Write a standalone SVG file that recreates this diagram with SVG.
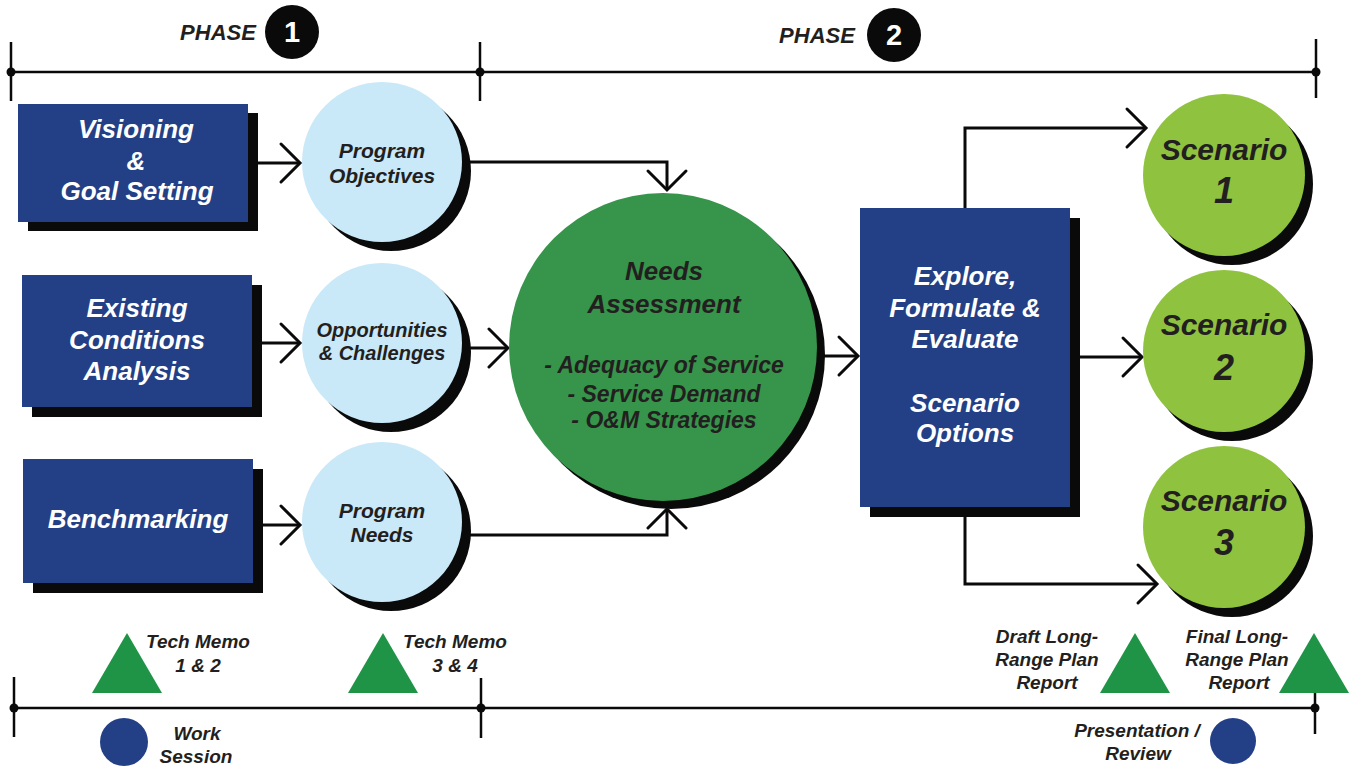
<svg xmlns="http://www.w3.org/2000/svg" width="1352" height="767" viewBox="0 0 1352 767">
  <defs>
    <style>
      .t { font-family: "Liberation Sans", Arial, sans-serif; font-weight: bold; font-style: italic; text-anchor: middle; }
      .upright { font-style: normal; }
      .dark { fill: #231f20; }
      .white { fill: #ffffff; }
      .box { fill: #233f86; }
      .shadow { fill: #0a0a0a; }
      .lblue { fill: #c9e8f8; }
      .dgreen { fill: #36954a; }
      .lime { fill: #8fc33f; }
      .tri { fill: #1f9447; }
      .navy { fill: #233f86; }
      .tl { stroke: #0a0a0a; stroke-width: 2.5; fill: none; }
      .conn { stroke: #0a0a0a; stroke-width: 3; fill: none; }
      .dot { fill: #0a0a0a; }
    </style>
    <marker id="chev" markerUnits="userSpaceOnUse" viewBox="-24 -23 28 46" refX="0" refY="0" markerWidth="28" markerHeight="46" orient="auto">
      <path d="M -19 -19 L 0 0 L -19 19" fill="none" stroke="#0a0a0a" stroke-width="3" stroke-linecap="round"/>
    </marker>
  </defs>

  <rect width="1352" height="767" fill="#ffffff"/>

  <!-- phase timeline (top) -->
  <g id="timeline-top">
    <line class="tl" x1="11" y1="72" x2="1316" y2="72"/>
    <line class="tl" x1="11" y1="42" x2="11" y2="101"/>
    <line class="tl" x1="480" y1="42" x2="480" y2="101"/>
    <line class="tl" x1="1316" y1="39" x2="1316" y2="98"/>
    <circle class="dot" cx="11" cy="72" r="4.5"/>
    <circle class="dot" cx="480" cy="72" r="4.5"/>
    <circle class="dot" cx="1316" cy="72" r="4.5"/>
  </g>

  <g id="phase-1">
    <text class="t dark" x="218" y="40" font-size="22">PHASE</text>
    <circle cx="292" cy="32" r="27" fill="#0a0a0a"/>
    <text class="t white upright" x="292" y="42" font-size="29">1</text>
  </g>
  <g id="phase-2">
    <text class="t dark" x="817" y="43" font-size="22">PHASE</text>
    <circle cx="894" cy="35" r="27" fill="#0a0a0a"/>
    <text class="t white upright" x="894" y="45" font-size="29">2</text>
  </g>

  <!-- connectors -->
  <g id="connectors">
    <line class="conn" x1="258" y1="163" x2="300" y2="163" marker-end="url(#chev)"/>
    <line class="conn" x1="261" y1="343" x2="300" y2="343" marker-end="url(#chev)"/>
    <line class="conn" x1="263" y1="525" x2="300" y2="525" marker-end="url(#chev)"/>
    <polyline class="conn" points="465,162 667,162 667,190" marker-end="url(#chev)"/>
    <line class="conn" x1="465" y1="348" x2="508" y2="348" marker-end="url(#chev)"/>
    <polyline class="conn" points="465,535 667,535 667,509" marker-end="url(#chev)"/>
    <line class="conn" x1="815" y1="356" x2="858" y2="356" marker-end="url(#chev)"/>
    <polyline class="conn" points="965,210 965,128 1146,128" marker-end="url(#chev)"/>
    <line class="conn" x1="1078" y1="357" x2="1142" y2="357" marker-end="url(#chev)"/>
    <polyline class="conn" points="965,515 965,584 1157,584" marker-end="url(#chev)"/>
  </g>

  <!-- input tasks -->
  <g id="visioning">
    <rect class="shadow" x="28" y="113" width="230" height="118"/>
    <rect class="box" x="18" y="104" width="230" height="118"/>
    <text class="t white" font-size="26"><tspan x="136" y="138">Visioning</tspan><tspan x="136" y="170">&amp;</tspan><tspan x="137" y="200">Goal Setting</tspan></text>
  </g>
  <g id="existing-conditions">
    <rect class="shadow" x="32" y="285" width="230" height="132"/>
    <rect class="box" x="22" y="275" width="230" height="132"/>
    <text class="t white" font-size="26"><tspan x="137" y="317">Existing</tspan><tspan x="137" y="349">Conditions</tspan><tspan x="137" y="380">Analysis</tspan></text>
  </g>
  <g id="benchmarking">
    <rect class="shadow" x="33" y="469" width="230" height="124"/>
    <rect class="box" x="23" y="459" width="230" height="124"/>
    <text class="t white" font-size="26" x="138" y="528">Benchmarking</text>
  </g>

  <!-- intermediate results -->
  <g id="program-objectives">
    <circle class="shadow" cx="391" cy="171" r="80"/>
    <circle class="lblue" cx="382" cy="162" r="80"/>
    <text class="t dark" font-size="21"><tspan x="382" y="158">Program</tspan><tspan x="382" y="183">Objectives</tspan></text>
  </g>
  <g id="opportunities">
    <circle class="shadow" cx="391" cy="352" r="80"/>
    <circle class="lblue" cx="382" cy="343" r="80"/>
    <text class="t dark" font-size="20"><tspan x="382" y="337">Opportunities</tspan><tspan x="382" y="360">&amp; Challenges</tspan></text>
  </g>
  <g id="program-needs">
    <circle class="shadow" cx="391" cy="531" r="80"/>
    <circle class="lblue" cx="382" cy="522" r="80"/>
    <text class="t dark" font-size="21"><tspan x="382" y="518">Program</tspan><tspan x="382" y="542">Needs</tspan></text>
  </g>

  <!-- needs assessment -->
  <g id="needs-assessment">
    <circle class="shadow" cx="671" cy="355" r="154"/>
    <circle class="dgreen" cx="663" cy="347" r="154"/>
    <text class="t dark" font-size="26"><tspan x="664" y="280">Needs</tspan><tspan x="664" y="313">Assessment</tspan></text>
    <text class="t dark" font-size="23"><tspan x="664" y="373">- Adequacy of Service</tspan><tspan x="664" y="402">- Service Demand</tspan><tspan x="664" y="428">- O&amp;M Strategies</tspan></text>
  </g>

  <!-- scenario development -->
  <g id="explore">
    <rect class="shadow" x="870" y="218" width="210" height="299"/>
    <rect class="box" x="860" y="208" width="210" height="299"/>
    <text class="t white" font-size="26"><tspan x="965" y="285">Explore,</tspan><tspan x="965" y="317">Formulate &amp;</tspan><tspan x="965" y="348">Evaluate</tspan><tspan x="965" y="412">Scenario</tspan><tspan x="965" y="442">Options</tspan></text>
  </g>

  <g id="scenario-1">
    <circle class="shadow" cx="1232" cy="184" r="81"/>
    <circle class="lime" cx="1224" cy="175" r="81"/>
    <text class="t dark" font-size="30" x="1224" y="160">Scenario</text>
    <text class="t dark" font-size="36" x="1224" y="203">1</text>
  </g>
  <g id="scenario-2">
    <circle class="shadow" cx="1232" cy="360" r="81"/>
    <circle class="lime" cx="1224" cy="351" r="81"/>
    <text class="t dark" font-size="30" x="1224" y="335">Scenario</text>
    <text class="t dark" font-size="36" x="1224" y="380">2</text>
  </g>
  <g id="scenario-3">
    <circle class="shadow" cx="1232" cy="536" r="81"/>
    <circle class="lime" cx="1224" cy="527" r="81"/>
    <text class="t dark" font-size="30" x="1224" y="511">Scenario</text>
    <text class="t dark" font-size="36" x="1224" y="555">3</text>
  </g>

  <!-- deliverables timeline (bottom) -->
  <g id="timeline-bottom">
    <line class="tl" x1="14" y1="708" x2="1316" y2="708"/>
    <line class="tl" x1="14" y1="677" x2="14" y2="737"/>
    <line class="tl" x1="481" y1="678" x2="481" y2="738"/>
    <line class="tl" x1="1315" y1="678" x2="1315" y2="734"/>
    <circle class="dot" cx="14" cy="708" r="4.5"/>
    <circle class="dot" cx="481" cy="708" r="4.5"/>
    <circle class="dot" cx="1315" cy="708" r="4.5"/>
  </g>

  <g id="tech-memo-1-2">
    <polygon class="tri" points="127,633 162,693 92,693"/>
    <text class="t dark" font-size="19"><tspan x="198" y="648">Tech Memo</tspan><tspan x="198" y="672">1 &amp; 2</tspan></text>
  </g>
  <g id="tech-memo-3-4">
    <polygon class="tri" points="383,633 418,693 348,693"/>
    <text class="t dark" font-size="19"><tspan x="455" y="648">Tech Memo</tspan><tspan x="455" y="672">3 &amp; 4</tspan></text>
  </g>
  <g id="work-session">
    <circle class="navy" cx="124" cy="742" r="24"/>
    <text class="t dark" font-size="19"><tspan x="197" y="740">Work</tspan><tspan x="196" y="763">Session</tspan></text>
  </g>
  <g id="draft-report">
    <polygon class="tri" points="1135,633 1170,693 1100,693"/>
    <text class="t dark" font-size="19"><tspan x="1047" y="643">Draft Long-</tspan><tspan x="1047" y="666">Range Plan</tspan><tspan x="1047" y="689">Report</tspan></text>
  </g>
  <g id="final-report">
    <polygon class="tri" points="1314,633 1349,693 1279,693"/>
    <text class="t dark" font-size="19"><tspan x="1237" y="643">Final Long-</tspan><tspan x="1237" y="666">Range Plan</tspan><tspan x="1239" y="689">Report</tspan></text>
  </g>
  <g id="presentation-review">
    <circle class="navy" cx="1233" cy="741" r="23"/>
    <text class="t dark" font-size="19"><tspan x="1137" y="737">Presentation /</tspan><tspan x="1138" y="760">Review</tspan></text>
  </g>
</svg>
